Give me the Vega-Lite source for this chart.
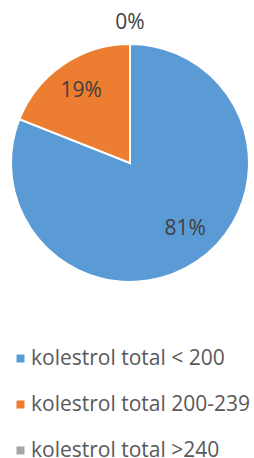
{
  "$schema": "https://vega.github.io/schema/vega-lite/v6.json",
  "width": 260,
  "height": 326,
  "padding": 0,
  "background": "white",
  "config": {"view": {"stroke": null}},
  "data": {"values": [
    {"kategori": "kolestrol total < 200", "persen": 81, "urut": 1, "label": "81%"},
    {"kategori": "kolestrol total 200-239", "persen": 19, "urut": 2, "label": "19%"},
    {"kategori": "kolestrol total >240", "persen": 0, "urut": 3, "label": "0%"}
  ]},
  "encoding": {
    "theta": {"field": "persen", "type": "quantitative", "stack": true},
    "order": {"field": "urut", "type": "quantitative"}
  },
  "layer": [
    {
      "mark": {"type": "arc", "outerRadius": 119, "stroke": "white", "strokeWidth": 2},
      "encoding": {
        "color": {
          "field": "kategori", "type": "nominal",
          "scale": {"domain": ["kolestrol total < 200", "kolestrol total 200-239", "kolestrol total >240"], "range": ["#5B9BD5", "#ED7D31", "#A5A5A5"]},
          "legend": {
            "orient": "none", "legendX": 10, "legendY": 348, "title": null, "padding": 0,
            "symbolType": "square", "symbolSize": 64, "symbolStrokeWidth": 0,
            "labelFontSize": 21, "labelFont": "Open Sans", "labelColor": "#595959",
            "rowPadding": 24, "labelOffset": 0, "labelLimit": 400
          }
        }
      }
    },
    {
      "mark": {"type": "text", "radius": 86, "thetaOffset": -0.098, "fontSize": 21, "font": "Open Sans", "fill": "#404040", "baseline": "middle", "align": "center"},
      "encoding": {"text": {"condition": {"test": "datum.persen > 50", "field": "label", "type": "nominal"}, "value": ""}}
    },
    {
      "mark": {"type": "text", "radius": 87, "fontSize": 21, "font": "Open Sans", "fill": "#404040", "baseline": "middle", "align": "center"},
      "encoding": {"text": {"condition": {"test": "datum.persen > 0 && datum.persen <= 50", "field": "label", "type": "nominal"}, "value": ""}}
    },
    {
      "mark": {"type": "text", "radius": 140, "fontSize": 21, "font": "Open Sans", "fill": "#404040", "baseline": "middle", "align": "center"},
      "encoding": {"text": {"condition": {"test": "datum.persen == 0", "field": "label", "type": "nominal"}, "value": ""}}
    }
  ]
}
